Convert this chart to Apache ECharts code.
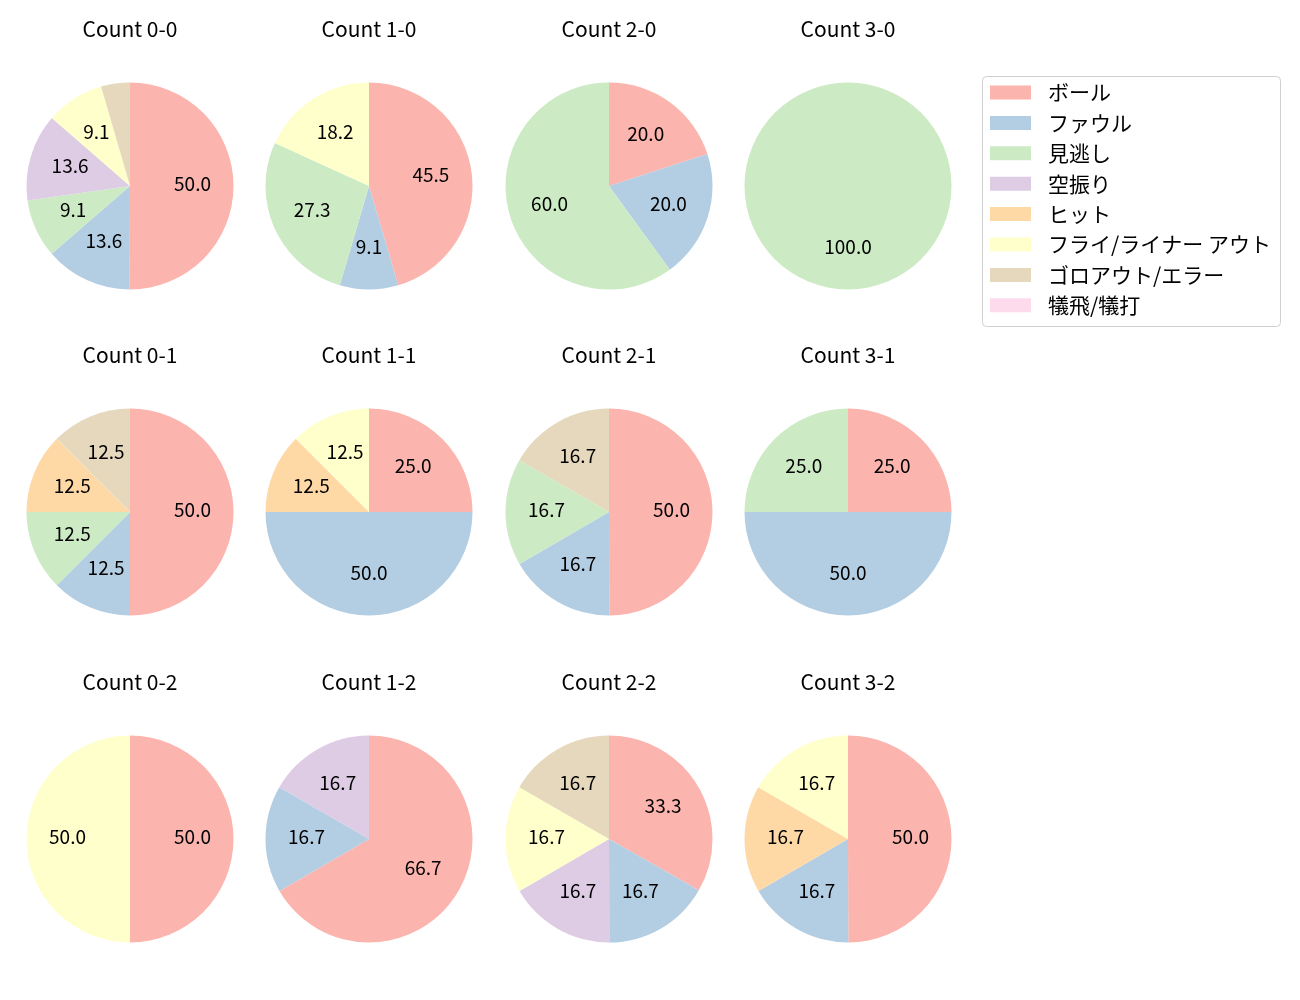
<!DOCTYPE html>
<html>
<head>
<meta charset="utf-8">
<script src="https://cdn.jsdelivr.net/npm/echarts@6/dist/echarts.min.js"></script>
<style>html,body{margin:0;padding:0;background:#fff}#chart{width:1300px;height:1000px}</style>
</head>
<body>
<div id="chart"></div>
<script>
const categories = ['ボール', 'ファウル', '見逃し', '空振り', 'ヒット', 'フライ/ライナー アウト', 'ゴロアウト/エラー', '犠飛/犠打'];
const colors = ['#fbb4ae', '#b3cde3', '#ccebc5', '#decbe4', '#fed9a6', '#ffffcc', '#e5d8bd', '#fddaec'];
const countTitles = ['Count 0-0', 'Count 1-0', 'Count 2-0', 'Count 3-0',
                     'Count 0-1', 'Count 1-1', 'Count 2-1', 'Count 3-1',
                     'Count 0-2', 'Count 1-2', 'Count 2-2', 'Count 3-2'];
// percentages per category (order as categories)
const c00 = [50.0, 13.6, 9.1, 13.6, 0, 9.1, 4.5, 0];
const c10 = [45.5, 9.1, 27.3, 0, 0, 18.2, 0, 0];
const c20 = [20.0, 20.0, 60.0, 0, 0, 0, 0, 0];
const c30 = [0, 0, 100.0, 0, 0, 0, 0, 0];
const c01 = [50.0, 12.5, 12.5, 0, 12.5, 0, 12.5, 0];
const c11 = [25.0, 50.0, 0, 0, 12.5, 12.5, 0, 0];
const c21 = [50.0, 16.7, 16.7, 0, 0, 0, 16.7, 0];
const c31 = [25.0, 50.0, 25.0, 0, 0, 0, 0, 0];
const c02 = [50.0, 0, 0, 0, 0, 50.0, 0, 0];
const c12 = [66.7, 16.7, 0, 16.7, 0, 0, 0, 0];
const c22 = [33.3, 16.7, 0, 16.7, 0, 16.7, 16.7, 0];
const c32 = [50.0, 16.7, 0, 0, 16.7, 16.7, 0, 0];
const countValues = [c00, c10, c20, c30, c01, c11, c21, c31, c02, c12, c22, c32];

const colX = [130, 369, 609, 848];
const rowY = [186, 512, 839];
const R = 103.5;
const FONT = '"Noto Sans CJK JP", "Noto Sans", sans-serif';

const series = [];
const graphic = [];
countValues.forEach((vals, i) => {
  const cx = colX[i % 4], cy = rowY[Math.floor(i / 4)];
  const data = vals.map((v, k) => ({ name: categories[k], value: v }));
  series.push({
    type: 'pie', center: [cx, cy], radius: [0, R], startAngle: 90, clockwise: true,
    data: data, label: { show: false }, labelLine: { show: false }, silent: true,
    itemStyle: { borderWidth: 0 }, emphasis: { disabled: true }, animation: false,
    stillShowZeroSum: false
  });
  series.push({
    type: 'pie', center: [cx, cy], radius: [15.5, R], startAngle: 90, clockwise: true,
    data: data, silent: true, itemStyle: { color: 'rgba(0,0,0,0)', borderWidth: 0 },
    emphasis: { disabled: true }, animation: false, labelLine: { show: false },
    label: {
      show: true, position: 'inside', color: '#000', fontSize: 19, fontFamily: FONT,
      offset: [0, -2],
      formatter: p => (p.value >= 5 ? p.value.toFixed(1) : '')
    }
  });
  graphic.push({
    type: 'text', x: cx, y: cy - 157,
    style: { text: countTitles[i], align: 'center', verticalAlign: 'middle', fill: '#000', font: '21px ' + FONT }
  });
});
graphic.push({
  type: 'rect', shape: { x: 982.5, y: 76.5, width: 298, height: 250, r: 4 },
  style: { fill: '#fff', stroke: '#d0d0d0', lineWidth: 1 }, z: -1
});

const chart = echarts.init(document.getElementById('chart'), null, { renderer: 'canvas' });
chart.setOption({
  animation: false,
  color: colors,
  graphic: graphic,
  legend: {
    orient: 'vertical', left: 982, top: 76, padding: [6, 10, 11, 8],
    itemWidth: 41, itemHeight: 14, itemGap: 9.4, selectedMode: false,
    icon: 'rect',
    textStyle: { fontSize: 21, lineHeight: 20, fontFamily: FONT, color: '#000', padding: [0, 0, 0, 12] },
    data: categories.map((c, k) => ({ name: c, itemStyle: { color: colors[k] } }))
  },
  series: series
});
</script>
</body>
</html>
